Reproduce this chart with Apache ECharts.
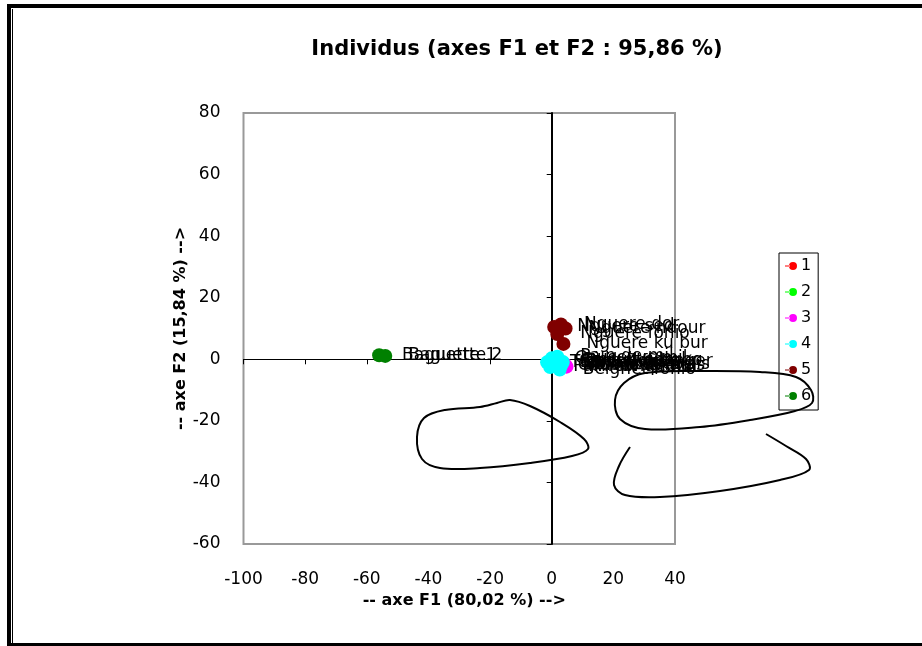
<!DOCTYPE html>
<html>
<head>
<meta charset="utf-8">
<script src="https://cdn.jsdelivr.net/npm/echarts@6/dist/echarts.min.js"></script>
<style>html,body{margin:0;padding:0;background:#fff}#c{width:922px;height:646px}</style>
</head>
<body>
<div id="c"></div>
<script>
// ---- data ----
const xTicks = [-100, -80, -60, -40, -20, 0, 20, 40];
const yTicks = [-60, -40, -20, 0, 20, 40, 60, 80];
const groupNames = ['1', '2', '3', '4', '5', '6'];
const groupColors = ['#FF0000', '#00FF00', '#FF00FF', '#00FFFF', '#800000', '#008000'];
const g1 = [[1.5, -1.2, 'Sankal fin']];
const g2 = [[2.0, -0.6, 'Sankal gros']];
const g3 = [[4.8, -2.4, 'Arraw de mil'], [4.2, -1.6, 'Arraw de maïs']];
const g4 = [[-1.5, -1.0, 'Thiacry mil'], [0.0, 0.3, 'Couscous mil'], [1.0, -2.0, 'Couscous maïs'], [2.5, -0.4, 'Biscuit sorgho'], [3.2, -1.8, 'Biscuit niébé'], [-0.5, -2.5, 'Pain complet'], [1.8, 0.8, 'Pain de mil'], [2.6, -3.3, 'Beignet fonio'], [3.6, -0.9, 'Pain boulanger']];
const g5 = [[0.8, 10.5, 'Nguere sed'], [3.0, 11.3, 'Nguere dor'], [4.5, 10.0, 'Nguere ndour'], [1.8, 8.2, 'Nguere fonio'], [3.8, 5.0, 'Nguere ku bur']];
const g6 = [[-56.0, 1.3, 'Baguette 1'], [-54.0, 1.1, 'Baguette 2']];
const groups = [g1, g2, g3, g4, g5, g6];
const titleText = 'Individus (axes F1 et F2 : 95,86 %)';
const xName = '-- axe F1 (80,02 %) -->';
const yName = '-- axe F2 (15,84 %) -->';

const chart = echarts.init(document.getElementById('c'), null, {renderer: 'canvas'});
const FONT = '"DejaVu Sans", "Liberation Sans", sans-serif';

const series = groups.map((g, i) => ({
  name: groupNames[i],
  type: 'scatter',
  xAxisIndex: 0,
  yAxisIndex: 0,
  symbol: 'circle',
  symbolSize: 14,
  itemStyle: {color: groupColors[i], opacity: 1},
  label: {
    show: true,
    position: 'right',
    distance: 16,
    color: '#000',
    fontFamily: FONT,
    fontSize: 17,
    formatter: p => p.value[2]
  },
  labelLayout: {hideOverlap: false},
  emphasis: {disabled: true},
  data: g
}));

const xMin = xTicks[0], xMax = xTicks[xTicks.length - 1];
const yMin = yTicks[0], yMax = yTicks[yTicks.length - 1];

chart.setOption({
  animation: false,
  backgroundColor: '#fff',
  title: {
    text: titleText,
    left: 512,
    top: 34,
    textAlign: 'center',
    textStyle: {fontFamily: FONT, fontSize: 21, fontWeight: 'bold', color: '#000'}
  },
  legend: {
    orient: 'vertical',
    left: 779,
    top: 253,
    padding: [5, 7, 6, 6],
    itemGap: 10,
    itemWidth: 12,
    itemHeight: 8,
    borderColor: '#000',
    borderWidth: 1,
    icon: 'path://M0,3.5h5v1h-5zM4,4a4,4 0 1,0 8,0a4,4 0 1,0 -8,0z',
    textStyle: {fontFamily: FONT, fontSize: 16, color: '#000', lineHeight: 16, padding: [0, 0, 0, -1]},
    data: groupNames
  },
  grid: {
    left: 243.5, right: 247, top: 113, bottom: 102,
    show: true, borderColor: '#999', borderWidth: 2, backgroundColor: '#fff'
  },
  xAxis: [{
    type: 'value', min: xMin, max: xMax, interval: 20, position: 'bottom',
    axisLine: {show: false, onZero: false}, axisTick: {show: false}, splitLine: {show: false},
    axisLabel: {fontFamily: FONT, fontSize: 17, color: '#000', margin: 27},
    name: xName, nameLocation: 'middle', nameGap: 48,
    nameTextStyle: {fontFamily: FONT, fontSize: 16, fontWeight: 'bold', color: '#000', padding: [0, 0, 0, 10]}
  }, {
    type: 'value', min: xMin, max: xMax, interval: 20, position: 'bottom',
    axisLine: {show: true, onZero: true, lineStyle: {color: '#000', width: 1}},
    axisTick: {show: true, length: 5, lineStyle: {color: '#000', width: 1}},
    axisLabel: {show: false}, splitLine: {show: false}
  }],
  yAxis: [{
    type: 'value', min: yMin, max: yMax, interval: 20, position: 'left',
    axisLine: {show: false, onZero: false}, axisTick: {show: false}, splitLine: {show: false},
    axisLabel: {fontFamily: FONT, fontSize: 17, color: '#000', margin: 23},
    name: yName, nameLocation: 'middle', nameGap: 45, nameRotate: 90,
    nameTextStyle: {fontFamily: FONT, fontSize: 16, fontWeight: 'bold', color: '#000'}
  }, {
    type: 'value', min: yMin, max: yMax, interval: 20, position: 'left',
    axisLine: {show: true, onZero: true, lineStyle: {color: '#000', width: 2}},
    axisTick: {show: true, length: 5, lineStyle: {color: '#000', width: 1}},
    axisLabel: {show: false}, splitLine: {show: false}
  }],
  series: series,
  graphic: [
    {type: 'rect', shape: {x: 7, y: 4, width: 915, height: 4}, style: {fill: '#000'}, silent: true, z: 100},
    {type: 'rect', shape: {x: 7, y: 4, width: 4, height: 642}, style: {fill: '#000'}, silent: true, z: 100},
    {type: 'rect', shape: {x: 7, y: 643, width: 915, height: 3}, style: {fill: '#000'}, silent: true, z: 100},
    {type: 'line', shape: {x1: 12.5, y1: 9, x2: 12.5, y2: 643}, style: {stroke: '#000', lineWidth: 1}, silent: true, z: 100},
    {type: 'polygon', silent: true, z: 100,
      shape: {smooth: 0.35, points: [[510,400],[530,406],[560,422],[584,439],[588,449],[572,456],[530,463],[480,468],[440,468],[422,459],[417,437],[424,418],[445,410],[480,407],[497,403]]},
      style: {fill: 'none', stroke: '#000', lineWidth: 2}},
    {type: 'polygon', silent: true, z: 100,
      shape: {smooth: 0.35, points: [[645,373],[700,371],[760,372],[796,377],[811,390],[812,403],[795,411],[750,420],[700,427],[645,429],[620,419],[615,400],[624,383]]},
      style: {fill: 'none', stroke: '#000', lineWidth: 2}},
    {type: 'polyline', silent: true, z: 100,
      shape: {smooth: 0.35, points: [[630,447],[619,466],[614,485],[625,495],[660,497],[720,491],[780,480],[809,470],[806,459],[786,446],[766,434]]},
      style: {fill: 'none', stroke: '#000', lineWidth: 2}}
  ]
});
</script>
</body>
</html>
